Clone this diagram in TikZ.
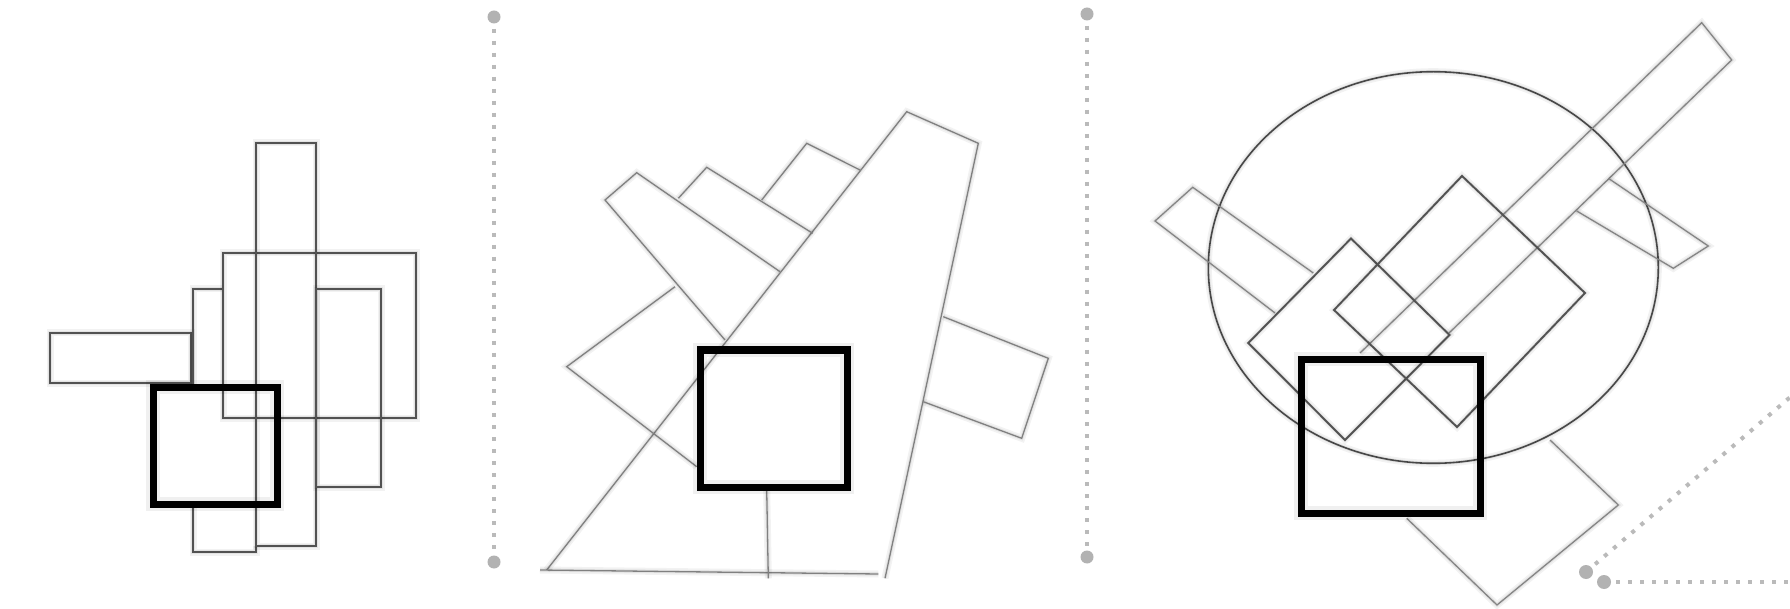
\documentclass[tikz,border=0pt]{standalone}
\begin{document}
\begin{tikzpicture}[x=1pt,y=-1pt,
  glow/.style={preaction={draw=black,draw opacity=0.05,line width=7pt},
               preaction={draw=black,draw opacity=0.06,line width=3.5pt}},
  bigglow/.style={preaction={draw=black,draw opacity=0.06,line width=14pt}},
  thinA/.style={draw=black!68,line width=1.7pt,glow},
  thinB/.style={draw=black!50,line width=1.3pt,glow},
  thinC/.style={draw=black!48,line width=1.3pt,glow},
  darkC/.style={draw=black!68,line width=1.9pt,glow},
  ellC/.style={draw=black!72,line width=1.6pt,glow},
  heavy/.style={draw=black,line width=7pt,bigglow},
  dots/.style={draw=black!27,line width=4pt,dash pattern=on 4pt off 8pt},
  enddot/.style={fill=black!30,draw=none},
]
\useasboundingbox (0,0) rectangle (1790,609);
\fill[white] (0,0) rectangle (1790,609);

% ---------------- Panel 1 ----------------
\draw[thinA] (50,333) rectangle (191,383);
\draw[thinA] (223,289) -- (193,289) -- (193,387);
\draw[thinA] (193,504) -- (193,552) -- (256,552) -- (256,546);
\draw[thinA] (223,253) rectangle (416,418);
\draw[thinA] (256,143) rectangle (316,546);
\draw[thinA] (316,289) rectangle (381,487);
\draw[heavy] (153,387) rectangle (277,504);

% ---------------- Separator 1 ----------------
\coordinate (s1a) at (494,17);
\coordinate (s1b) at (494,562);
\draw[dots] (s1a) -- (s1b);
\fill[enddot] (s1a) circle (6.5);
\fill[enddot] (s1b) circle (6.5);

% ---------------- Panel 2 ----------------
\draw[thinB] (546.7,570) -- (906.7,111.7) -- (978.3,143.3) -- (885,578.3);
\draw[thinB] (540,570) -- (878.3,574);
\draw[thinB] (780,271.7) -- (636.7,172.7) -- (605,200) -- (725,340);
\draw[thinB] (678.3,198.3) -- (706.7,167.3) -- (812.7,233.3);
\draw[thinB] (761.7,200) -- (806.7,143.3) -- (860,170);
\draw[thinB] (675,286.7) -- (566.7,366.7) -- (696.7,466.7);
\draw[thinB] (766.7,490) -- (768.3,578.3);
\draw[thinB] (943.3,316.7) -- (1048.3,358.3) -- (1021.7,438.3) -- (923.3,401.7);
\draw[heavy] (700,350) rectangle (847,487);

% ---------------- Separator 2 ----------------
\coordinate (s2a) at (1087,14);
\coordinate (s2b) at (1087,557);
\draw[dots] (s2a) -- (s2b);
\fill[enddot] (s2a) circle (6.5);
\fill[enddot] (s2b) circle (6.5);

% ---------------- Panel 3 ----------------
\draw[thinC] (1550,440) -- (1618.3,505) -- (1497,605) -- (1406.7,518.3);
\draw[ellC] (1433.3,267.5) ellipse [x radius=225, y radius=195.8];
\draw[thinC] (1360,353) -- (1701.7,22.7) -- (1731.7,60) -- (1449,333);
\draw[thinC] (1608.3,178.3) -- (1708.3,246) -- (1673.3,268.3) -- (1576.7,211);
\draw[thinC] (1313.3,273) -- (1192.7,187.3) -- (1155,221) -- (1275,313);
\draw[darkC] (1351,238.5) -- (1449.5,335) -- (1345,440) -- (1248.3,343) -- cycle;
\draw[darkC] (1462,176) -- (1585,293) -- (1457,427) -- (1334,310) -- cycle;
\draw[heavy] (1301,359) rectangle (1480,513);

% ---------------- Corner dotted lines ----------------
\coordinate (c1) at (1586,572);
\coordinate (c1e) at (1795,393);
\coordinate (c2) at (1604,582);
\coordinate (c2e) at (1795,582);
\draw[dots] (c1) -- (c1e);
\draw[dots] (c2) -- (c2e);
\fill[enddot] (c1) circle (7);
\fill[enddot] (c2) circle (7);
\end{tikzpicture}
\end{document}
